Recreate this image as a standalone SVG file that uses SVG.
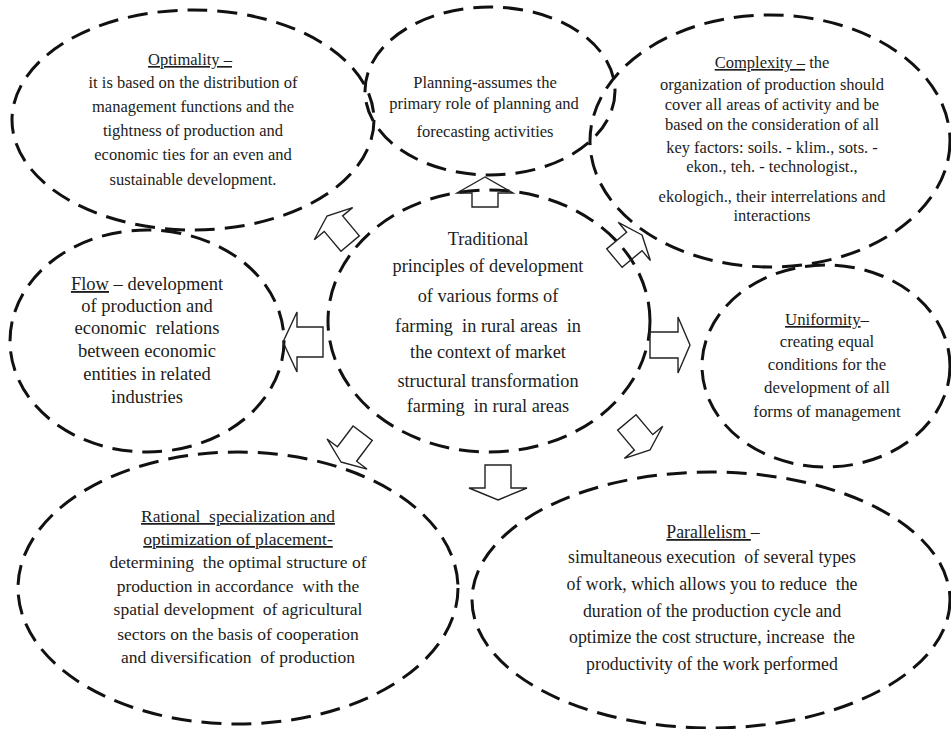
<svg xmlns="http://www.w3.org/2000/svg" width="951" height="729" viewBox="0 0 951 729">
<style>
.ell{fill:none;stroke:#111;stroke-width:3;stroke-dasharray:20 10}
.arr{fill:none;stroke:#222;stroke-width:1.4;stroke-linejoin:miter}
text{font-family:"Liberation Serif","Times New Roman",serif;fill:#1c1c1c;text-anchor:middle}
.u{text-decoration:underline}
</style>
<rect width="951" height="729" fill="#fff"/>
<g id="node-optimality">
<ellipse class="ell" cx="193" cy="120" rx="181" ry="110"/>
<text font-size="16.5"><tspan x="190" y="65" class="u">Optimality –</tspan><tspan x="193" y="88">it is based on the distribution of</tspan><tspan x="193" y="112">management functions and the</tspan><tspan x="193" y="136">tightness of production and</tspan><tspan x="193" y="160">economic ties for an even and</tspan><tspan x="193" y="185">sustainable development.</tspan></text>
</g>
<g id="node-planning">
<ellipse class="ell" cx="490" cy="91" rx="125" ry="84"/>
<text font-size="16.5"><tspan x="485" y="88">Planning-assumes the</tspan><tspan x="484" y="109">primary role of planning and</tspan><tspan x="485" y="137">forecasting activities</tspan></text>
</g>
<g id="node-complexity">
<ellipse class="ell" cx="770" cy="141" rx="180" ry="126"/>
<text font-size="16.5"><tspan x="772" y="68"><tspan class="u">Complexity –</tspan> the</tspan><tspan x="772" y="90">organization of production should</tspan><tspan x="772" y="110">cover all areas of activity and be</tspan><tspan x="772" y="130">based on the consideration of all</tspan><tspan x="772" y="153">key factors: soils. - klim., sots. -</tspan><tspan x="772" y="172">ekon., teh. - technologist.,</tspan><tspan x="772" y="202">ekologich., their interrelations and</tspan><tspan x="772" y="221">interactions</tspan></text>
</g>
<g id="node-flow">
<ellipse class="ell" cx="147" cy="341" rx="137" ry="111"/>
<text font-size="18.5" xml:space="preserve"><tspan x="147" y="290"><tspan class="u">Flow</tspan> – development</tspan><tspan x="147" y="312">of production and</tspan><tspan x="147" y="334">economic  relations</tspan><tspan x="147" y="357">between economic</tspan><tspan x="147" y="380">entities in related</tspan><tspan x="147" y="403">industries</tspan></text>
</g>
<g id="node-center">
<ellipse class="ell" cx="489" cy="321" rx="161" ry="131"/>
<text font-size="18.3" xml:space="preserve"><tspan x="488" y="245">Traditional</tspan><tspan x="488" y="272">principles of development</tspan><tspan x="488" y="302">of various forms of</tspan><tspan x="488" y="332">farming  in rural areas  in</tspan><tspan x="488" y="358">the context of market</tspan><tspan x="488" y="387">structural transformation</tspan><tspan x="488" y="412">farming  in rural areas</tspan></text>
</g>
<g id="node-uniformity">
<ellipse class="ell" cx="826" cy="366" rx="124" ry="101"/>
<text font-size="16.8"><tspan x="827" y="325"><tspan class="u">Uniformity</tspan>–</tspan><tspan x="827" y="347">creating equal</tspan><tspan x="827" y="370">conditions for the</tspan><tspan x="827" y="393">development of all</tspan><tspan x="827" y="417">forms of management</tspan></text>
</g>
<g id="node-rational">
<ellipse class="ell" cx="238" cy="588" rx="220" ry="136"/>
<text font-size="17.5" xml:space="preserve"><tspan x="238" y="522" class="u">Rational  specialization and</tspan><tspan x="238" y="545" class="u">optimization of placement-</tspan><tspan x="238" y="568">determining  the optimal structure of</tspan><tspan x="238" y="592">production in accordance  with the</tspan><tspan x="238" y="615">spatial development  of agricultural</tspan><tspan x="238" y="640">sectors on the basis of cooperation</tspan><tspan x="238" y="663">and diversification  of production</tspan></text>
</g>
<g id="node-parallelism">
<ellipse class="ell" cx="711" cy="600" rx="239" ry="128"/>
<text font-size="17.8" xml:space="preserve"><tspan x="713" y="538"><tspan class="u">Parallelism </tspan>–</tspan><tspan x="712" y="563">simultaneous execution  of several types</tspan><tspan x="712" y="590">of work, which allows you to reduce  the</tspan><tspan x="712" y="617">duration of the production cycle and</tspan><tspan x="712" y="643">optimize the cost structure, increase  the</tspan><tspan x="712" y="670">productivity of the work performed</tspan></text>
</g>
<g id="connectors">
<path class="arr" transform="translate(485,177) rotate(-90)" d="M0,0 L-16,-28 L-16,-13 L-30,-13 L-30,13 L-16,13 L-16,28 Z"/>
<path class="arr" transform="translate(283,342) rotate(180)" d="M0,0 L-14,-30 L-14,-15 L-40,-15 L-40,15 L-14,15 L-14,30 Z"/>
<path class="arr" transform="translate(690,345)" d="M0,0 L-12,-28 L-12,-13 L-40,-13 L-40,13 L-12,13 L-12,28 Z"/>
<path class="arr" transform="translate(498,500) rotate(90)" d="M0,0 L-12,-29 L-12,-13 L-35,-13 L-35,13 L-12,13 L-12,29 Z"/>
<path class="arr" transform="translate(327,216) rotate(-130)" d="M0,0 L-10,-25 L-10,-12 L-36,-12 L-36,12 L-10,12 L-10,25 Z"/>
<path class="arr" transform="translate(642,235) rotate(-40)" d="M0,0 L-10,-25 L-10,-12 L-36,-12 L-36,12 L-10,12 L-10,25 Z"/>
<path class="arr" transform="translate(341,462) rotate(127)" d="M0,0 L-10,-25 L-10,-12 L-36,-12 L-36,12 L-10,12 L-10,25 Z"/>
<path class="arr" transform="translate(650,450) rotate(50)" d="M0,0 L-10,-25 L-10,-12 L-36,-12 L-36,12 L-10,12 L-10,25 Z"/>
</g>
</svg>
